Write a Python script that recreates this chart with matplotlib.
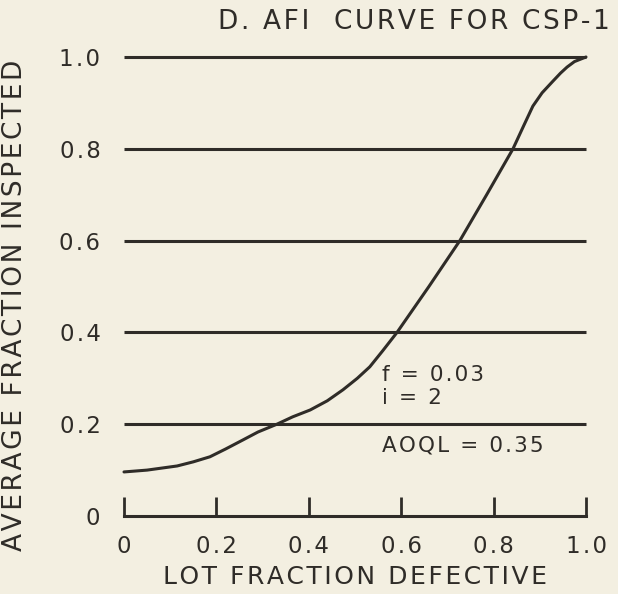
import matplotlib
matplotlib.use('Agg')
import matplotlib.pyplot as plt

# curve
lot_defective = [0.0, 0.05, 0.115, 0.15, 0.186, 0.22, 0.258, 0.29, 0.331, 0.365,
                 0.403, 0.44, 0.474, 0.505, 0.532, 0.56, 0.591, 0.66, 0.727,
                 0.785, 0.842, 0.865, 0.885, 0.905, 0.929, 0.945, 0.959, 0.975, 1.0]
fraction_inspected = [0.096, 0.1, 0.109, 0.118, 0.129, 0.146, 0.166, 0.183, 0.2, 0.216,
                      0.231, 0.251, 0.275, 0.3, 0.325, 0.36, 0.4, 0.5, 0.6,
                      0.7, 0.8, 0.85, 0.893, 0.922, 0.948, 0.965, 0.978, 0.99, 1.0]

x_ticks = [0, 0.2, 0.4, 0.6, 0.8, 1.0]
x_labels = ['0', '0.2', '0.4', '0.6', '0.8', '1.0']
y_ticks = [0, 0.2, 0.4, 0.6, 0.8, 1.0]
y_labels = ['0', '0.2', '0.4', '0.6', '0.8', '1.0']

title = 'D. AFI  CURVE FOR CSP-1'
xlabel = 'LOT FRACTION DEFECTIVE'
ylabel = 'AVERAGE FRACTION INSPECTED'
notes = ['f = 0.03', 'i = 2', 'AOQL = 0.35']

bg = '#f3efe1'
ink = '#2f2c28'


def spaced(s, sep='\u200a'):
    # petit espacement entre les lettres, comme le lettrage d'origine
    return sep.join(s)


plt.rcParams['font.family'] = ['DejaVu Sans']

fig = plt.figure(figsize=(6.18, 5.94), dpi=100, facecolor=bg)
ax = fig.add_axes([124 / 618, 1 - 516 / 594, 462 / 618, 459 / 594])
ax.set_facecolor(bg)
ax.set_xlim(0, 1)
ax.set_ylim(0, 1)

# horizontal rules
ax.hlines(y_ticks[1:], 0, 1, color=ink, lw=2.2, clip_on=False)

# curve
ax.plot(lot_defective, fraction_inspected, color=ink, lw=2.2, clip_on=False,
        solid_capstyle='round', solid_joinstyle='round')

for s in ['top', 'right', 'left']:
    ax.spines[s].set_visible(False)
ax.spines['bottom'].set_color(ink)
ax.spines['bottom'].set_linewidth(2.2)

ax.set_xticks(x_ticks)
ax.set_xticklabels([spaced(t) for t in x_labels])
ax.set_yticks(y_ticks)
ax.set_yticklabels([spaced(t) for t in y_labels])
ax.tick_params(axis='x', direction='in', length=14, width=2, color=ink,
               pad=14, labelsize=16.5, labelcolor=ink)
ax.tick_params(axis='y', length=0, pad=17, labelsize=16.5, labelcolor=ink)

ax.text(0.558, 0.307, spaced(notes[0]), fontsize=15.5, color=ink, va='center')
ax.text(0.558, 0.257, spaced(notes[1]), fontsize=15.5, color=ink, va='center')
ax.text(0.558, 0.153, spaced(notes[2]), fontsize=15.5, color=ink, va='center')

fig.text(414 / 618, 1 - 22 / 594, spaced(title), fontsize=19, color=ink,
         ha='center', va='center')
fig.text(355 / 618, 1 - 577 / 594, spaced(xlabel), fontsize=18, color=ink,
         ha='center', va='center')
fig.text(15 / 618, 1 - 305 / 594, spaced(ylabel), fontsize=19, color=ink,
         ha='center', va='center', rotation=90)

fig.savefig('out.png', dpi=100, facecolor=bg)
